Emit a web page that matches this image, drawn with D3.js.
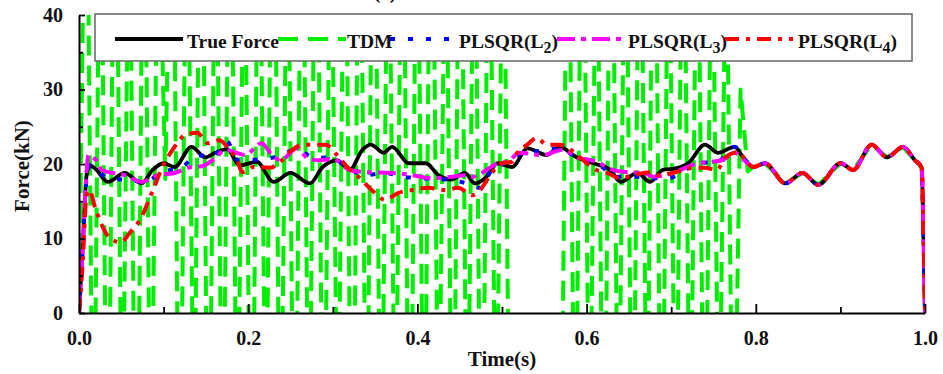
<!DOCTYPE html>
<html>
<head>
<meta charset="utf-8">
<script src="https://cdn.jsdelivr.net/npm/d3@7"></script>
<style>
  body { margin: 0; background: #fff; }
  svg { display: block; }
</style>
</head>
<body>
<div id="force-chart"></div>
<script>
// values, [time (s), force (kN)]
const trueForce = [
    [0, 0], [0.004, 8], [0.009, 18.5], [0.013, 19.8], [0.02, 19.3], [0.034, 17.6], [0.054, 18.8],
    [0.074, 17.4], [0.087, 19.2], [0.1, 20.1], [0.113, 19.6], [0.133, 22.3], [0.149, 20.9],
    [0.161, 21.5], [0.175, 22.0], [0.19, 19.8], [0.21, 20.3], [0.23, 17.6], [0.25, 18.8],
    [0.273, 17.4], [0.288, 19.6], [0.305, 20.5], [0.32, 19.2], [0.335, 21.9], [0.345, 22.6],
    [0.36, 21.5], [0.37, 22.3], [0.39, 20.1], [0.41, 20.1], [0.425, 18.5], [0.44, 17.9],
    [0.456, 18.8], [0.468, 17.4], [0.48, 18.1], [0.495, 20.1], [0.512, 19.6], [0.53, 22.1],
    [0.553, 21.2], [0.568, 22.3], [0.588, 20.9], [0.608, 20.1], [0.628, 19.2], [0.64, 17.6],
    [0.66, 18.8], [0.675, 17.6], [0.69, 19.2], [0.705, 19.4], [0.72, 20.1], [0.74, 22.6],
    [0.755, 21.5], [0.775, 22.3], [0.785, 20.9]
];

const plsqrL2 = [
    [0, 0], [0.004, 8], [0.009, 18], [0.013, 19.8], [0.034, 18.1], [0.054, 17.9], [0.078, 17.6],
    [0.098, 18.9], [0.122, 19.6], [0.14, 21.2], [0.157, 20.9], [0.175, 23.0], [0.188, 20.5],
    [0.226, 20.8], [0.258, 21.9], [0.279, 20.8], [0.297, 20.9], [0.318, 19.5], [0.338, 18.5],
    [0.362, 18.8], [0.382, 18.3], [0.401, 18.1], [0.436, 17.9], [0.464, 17.2], [0.474, 16.8],
    [0.488, 19.2], [0.503, 20.1], [0.525, 21.5], [0.547, 21.8], [0.565, 22.1], [0.589, 20.9],
    [0.612, 20.1], [0.636, 18.3], [0.66, 18.3], [0.679, 18.1], [0.696, 18.1], [0.732, 20.1],
    [0.755, 20.3], [0.775, 22.3], [0.787, 20.6]
];

const plsqrL3 = [
    [0, 0], [0.004, 8], [0.009, 19], [0.011, 21.2], [0.02, 20.5], [0.027, 19.2], [0.054, 18.5],
    [0.074, 17.6], [0.093, 18.5], [0.113, 18.8], [0.133, 19.6], [0.145, 19.7], [0.161, 20.8],
    [0.173, 21.9], [0.186, 21.5], [0.196, 21.2], [0.216, 22.8], [0.226, 21.5], [0.238, 20.5],
    [0.258, 22.1], [0.27, 20.8], [0.285, 20.5], [0.3, 20.7], [0.32, 19.2], [0.34, 18.9],
    [0.37, 18.8], [0.394, 18.5], [0.417, 18.1], [0.441, 18.3], [0.456, 18.5], [0.466, 18.3],
    [0.476, 18.8], [0.495, 20.1], [0.507, 20.3], [0.52, 21.5], [0.548, 21.2], [0.572, 21.9],
    [0.589, 20.9], [0.612, 20.3], [0.631, 19.2], [0.648, 18.9], [0.667, 18.8], [0.679, 18.3],
    [0.693, 18.5], [0.732, 20.1], [0.76, 20.5], [0.775, 21.5], [0.787, 20.4]
];

const plsqrL4 = [
    [0, 0], [0.004, 6], [0.009, 15.8], [0.012, 16.5], [0.02, 13.8], [0.037, 10], [0.049, 9.5],
    [0.061, 10.9], [0.072, 12.5], [0.086, 16.1], [0.1, 19.9], [0.113, 22.3], [0.125, 23.9],
    [0.14, 24.2], [0.152, 22.8], [0.166, 23.2], [0.178, 21.9], [0.187, 20.5], [0.193, 18.9],
    [0.206, 19.6], [0.226, 19.5], [0.238, 20.3], [0.249, 21.6], [0.265, 22.6], [0.28, 22.6],
    [0.292, 22.6], [0.305, 21.2], [0.317, 19.6], [0.332, 18.1], [0.346, 16.5], [0.362, 15.2],
    [0.377, 16.1], [0.394, 16.5], [0.413, 16.8], [0.433, 16.5], [0.448, 16.8], [0.465, 15.8],
    [0.474, 16.5], [0.488, 18.8], [0.5, 20.1], [0.512, 20.3], [0.518, 21.5], [0.53, 22.6],
    [0.541, 23.5], [0.553, 22.6], [0.568, 22.6], [0.589, 21.2], [0.6, 20.1], [0.612, 19.2],
    [0.624, 18.8], [0.64, 18.1], [0.655, 18.5], [0.675, 18.9], [0.684, 18.5], [0.705, 18.9],
    [0.728, 19.5], [0.74, 19.5], [0.754, 19.2], [0.764, 20.9], [0.779, 21.6], [0.788, 20.5]
];

// after ~0.79 s every method follows the true force
const sharedTail = [
    [0.797, 19.6], [0.811, 20.1], [0.835, 17.4], [0.855, 18.8], [0.874, 17.2], [0.9, 20.1],
    [0.915, 19.2], [0.937, 22.6], [0.955, 20.9], [0.974, 22.3], [0.988, 20.5], [0.996, 19.5],
    [0.998, 12], [1.0, 0]
];

// TDM swings far outside the axis range, sampled every 0.0085 s up to 0.79 s
const tdmStep = 0.0085;
const tdmForce = [
    0, 75, -30, 68, -40, 80, -25, 62, -45, 72,
    -28, 60, 18, 70, -35, 66, -22, 78, -38, 64,
    -30, 74, -26, 60, -42, 70, -24, 82, -32, 63,
    -40, 71, -27, 76, -36, 61, -23, 69, -44, 73,
    -29, 80, -34, 65, -25, 72, -40, 67, -31, 78,
    -24, 62, -37, 75, -28, 68, -42, 70, -26, 64,
    -35, -60, -90, -55, -100, -50, -85, -30, 70, -32,
    74, -25, 63, -40, 78, -27, 66, -35, 72, -24,
    80, -38, 62, -30, 70, -26, 66, -36, 60, -22,
    55, -30, 30, 19
];

const xTicks = [0, 0.2, 0.4, 0.6, 0.8, 1.0];
const xMinorTicks = [0.1, 0.3, 0.5, 0.7, 0.9];
const yTicks = [0, 10, 20, 30, 40];
const yMinorTicks = [5, 15, 25, 35];

const legendLabels = ["True Force", "TDM", "PLSQR(L2)", "PLSQR(L3)", "PLSQR(L4)"];

const margin = { top: 15, right: 18, bottom: 61, left: 79 };
const width = 943 - margin.left - margin.right;
const height = 374 - margin.top - margin.bottom;
const font = "'Liberation Serif', 'Times New Roman', serif";

const root = d3.select("#force-chart")
    .append("svg")
    .attr("width", 943)
    .attr("height", 374);

const svg = root.append("g")
    .attr("transform", `translate(${margin.left},${margin.top})`);

const x = d3.scaleLinear().domain([0, 1]).range([0, width]);
const y = d3.scaleLinear().domain([0, 40]).range([height, 0]);

svg.append("clipPath")
    .attr("id", "plot-clip")
    .append("rect")
    .attr("x", 0)
    .attr("y", 0)
    .attr("width", width)
    .attr("height", height);

const series = [
    { data: tdmForce.map((f, i) => [i * tdmStep, f]).concat(sharedTail), color: "#00ee00", width: 4, dash: "20,10", curve: d3.curveLinear },
    { data: trueForce.concat(sharedTail), color: "#000", width: 3.8, dash: null, curve: d3.curveMonotoneX },
    { data: plsqrL2.concat(sharedTail), color: "#0000ff", width: 4, dash: "5,13", curve: d3.curveMonotoneX },
    { data: plsqrL3.concat(sharedTail), color: "#ff00ff", width: 4, dash: "18,6,5,6", curve: d3.curveMonotoneX },
    { data: plsqrL4.concat(sharedTail), color: "#ff0000", width: 4, dash: "14,7,4,7", curve: d3.curveMonotoneX }
];

const lines = svg.append("g").attr("clip-path", "url(#plot-clip)");

series.forEach(s => {
    const line = d3.line()
        .x(d => x(d[0]))
        .y(d => y(d[1]))
        .curve(s.curve);
    lines.append("path")
        .datum(s.data)
        .attr("fill", "none")
        .attr("stroke", s.color)
        .attr("stroke-width", s.width)
        .attr("stroke-dasharray", s.dash)
        .attr("stroke-linejoin", "round")
        .attr("d", line);
});

// axes, ticks pointing inward
svg.append("g")
    .attr("class", "x-minor")
    .attr("transform", `translate(0,${height})`)
    .call(d3.axisBottom(x).tickValues(xMinorTicks).tickFormat("").tickSizeInner(-6).tickSizeOuter(0));

svg.append("g")
    .attr("class", "y-minor")
    .call(d3.axisLeft(y).tickValues(yMinorTicks).tickFormat("").tickSizeInner(-4).tickSizeOuter(0));

svg.append("g")
    .attr("class", "x-axis")
    .attr("transform", `translate(0,${height})`)
    .call(d3.axisBottom(x).tickValues(xTicks).tickFormat(d3.format(".1f"))
        .tickSizeInner(-9).tickSizeOuter(0).tickPadding(18));

svg.append("g")
    .attr("class", "y-axis")
    .call(d3.axisLeft(y).tickValues(yTicks).tickFormat(d3.format("d"))
        .tickSizeInner(-6).tickSizeOuter(0).tickPadding(16));

svg.selectAll(".x-minor path, .y-minor path").remove();
svg.selectAll(".x-axis path, .y-axis path")
    .attr("stroke", "#000")
    .attr("stroke-width", 2);
svg.selectAll(".tick line")
    .attr("stroke", "#000")
    .attr("stroke-width", 1.8);
svg.selectAll(".x-axis text, .y-axis text")
    .attr("fill", "#111")
    .style("font-family", font)
    .style("font-weight", "bold")
    .style("font-size", "20px");

// axis titles
svg.append("text")
    .attr("transform", "rotate(-90)")
    .attr("x", -(166 - margin.top))
    .attr("y", 29 - margin.left)
    .style("text-anchor", "middle")
    .style("font-family", font)
    .style("font-weight", "bold")
    .style("font-size", "21px")
    .style("fill", "#111")
    .text("Force(kN)");

svg.append("text")
    .attr("x", 502 - margin.left)
    .attr("y", 366 - margin.top)
    .style("text-anchor", "middle")
    .style("font-family", font)
    .style("font-weight", "bold")
    .style("font-size", "21px")
    .style("fill", "#111")
    .text("Time(s)");

// caption cut off by the top edge of the figure
root.append("text")
    .attr("x", 385)
    .attr("y", -1)
    .style("text-anchor", "middle")
    .style("font-family", font)
    .style("font-weight", "bold")
    .style("font-size", "19px")
    .text("(a)");

// legend, one row across the top
const legend = root.append("g").attr("class", "legend");

legend.append("rect")
    .attr("x", 95)
    .attr("y", 14)
    .attr("width", 817)
    .attr("height", 47)
    .attr("fill", "#fff")
    .attr("stroke", "#666")
    .attr("stroke-width", 1.5);

const sampleX = [115, 278, 390, 557, 725];
const sampleLen = 68;
const labelX = [187, 347, 459, 628, 798];

legendLabels.forEach((label, i) => {
    const s = series[i === 0 ? 1 : i === 1 ? 0 : i];
    legend.append("line")
        .attr("x1", sampleX[i])
        .attr("x2", sampleX[i] + sampleLen)
        .attr("y1", 39)
        .attr("y2", 39)
        .attr("stroke", s.color)
        .attr("stroke-width", s.width)
        .attr("stroke-dasharray", s.dash);

    const t = legend.append("text")
        .attr("x", labelX[i])
        .attr("y", 48)
        .style("font-family", font)
        .style("font-weight", "bold")
        .style("font-size", "19.5px")
        .style("fill", "#111");

    const m = label.match(/^(.*L)(\d)\)$/);
    if (m) {
        t.append("tspan").text(m[1]);
        t.append("tspan").attr("dy", 5).style("font-size", "16px").text(m[2]);
        t.append("tspan").attr("dy", -5).text(")");
    } else {
        t.text(label);
    }
});
</script>
</body>
</html>
